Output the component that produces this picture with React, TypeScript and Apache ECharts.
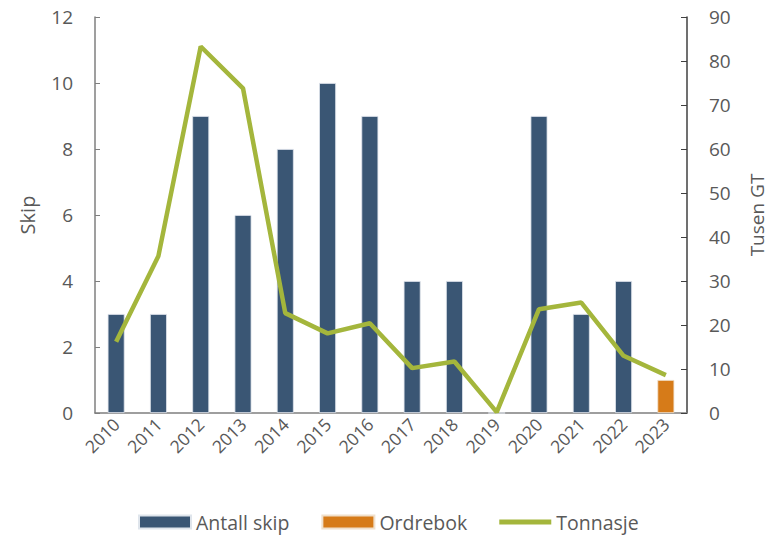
import React, { useEffect, useRef } from "react";
import * as echarts from "echarts";

const years = ["2010","2011","2012","2013","2014","2015","2016","2017","2018","2019","2020","2021","2022","2023"];
const antallSkip = [3, 3, 9, 6, 8, 10, 9, 4, 4, 0, 9, 3, 4, null];
const ordrebok = [null, null, null, null, null, null, null, null, null, null, null, null, null, 1];
const tonnasje = [16.2, 35.7, 83.3, 73.8, 22.7, 18.1, 20.4, 10.2, 11.7, 0.2, 23.6, 25.1, 13.0, 8.6];

const FONT = "Open Sans";
const TXT = "#595959";

export default function App() {
  const ref = useRef<HTMLDivElement>(null);
  useEffect(() => {
    const chart = echarts.init(ref.current!, null, { renderer: "svg" });
    chart.setOption({
      animation: false,
      textStyle: { fontFamily: FONT, color: TXT },
      grid: { left: 95, right: 84, top: 17, bottom: 123, outerBoundsMode: "none", containLabel: false },
      legend: {
        left: 138,
        bottom: 4,
        padding: 0,
        itemWidth: 52,
        itemHeight: 13,
        itemGap: 32,
        textStyle: { fontFamily: FONT, fontSize: 19.5, color: TXT },
        data: [
          { name: "Antall skip", icon: "rect" },
          { name: "Ordrebok", icon: "rect" },
          { name: "Tonnasje", icon: "path://M0,4L52,4L52,9L0,9Z M0,0L0.01,0 M0,13L0.01,13" },
        ],
      },
      xAxis: {
        type: "category",
        data: years,
        axisLine: { lineStyle: { color: "#7f7f7f", width: 1.5 } },
        axisTick: { show: false },
        axisLabel: { rotate: 45, fontSize: 17.5, color: TXT, fontFamily: FONT, margin: 8 },
      },
      yAxis: [
        {
          type: "value",
          min: 0, max: 12, interval: 2,
          name: "Skip",
          nameLocation: "middle",
          nameGap: 58,
          nameTextStyle: { fontSize: 20, color: TXT, fontFamily: FONT },
          axisLine: { show: true, lineStyle: { color: "#7f7f7f", width: 1.5 } },
          axisTick: { show: true, inside: true, length: 5, lineStyle: { color: "#7f7f7f" } },
          axisLabel: { fontSize: 19, color: TXT, fontFamily: FONT, margin: 22 },
          splitLine: { show: false },
        },
        {
          type: "value",
          min: 0, max: 90, interval: 10,
          name: "Tusen GT",
          nameLocation: "middle",
          nameGap: 60,
          nameRotate: 90,
          nameTextStyle: { fontSize: 19, color: TXT, fontFamily: FONT },
          axisLine: { show: true, lineStyle: { color: "#404040", width: 1.5 } },
          axisTick: { show: true, inside: true, length: 6, lineStyle: { color: "#404040" } },
          axisLabel: { fontSize: 19, color: TXT, fontFamily: FONT, margin: 22 },
          splitLine: { show: false },
        },
      ],
      series: [
        {
          name: "Antall skip",
          type: "bar",
          stack: "a",
          data: antallSkip,
          barWidth: "40%",
          itemStyle: { color: "#3a5674", borderColor: "#dfe5ec", borderWidth: 0.8 },
        },
        {
          name: "Ordrebok",
          type: "bar",
          stack: "a",
          data: ordrebok,
          barWidth: "40%",
          itemStyle: { color: "#d67b19", borderColor: "#f0e0cc", borderWidth: 0.8 },
        },
        {
          name: "Tonnasje",
          type: "line",
          yAxisIndex: 1,
          data: tonnasje,
          symbol: "none",
          lineStyle: { color: "#a4b63c", width: 4.5, cap: "butt" },
          itemStyle: { color: "#a4b63c" },
        },
      ],
    });
    return () => chart.dispose();
  }, []);
  return <div ref={ref} style={{ width: 771, height: 536, position: "absolute", left: 0, top: 0, background: "#fff" }} />;
}
